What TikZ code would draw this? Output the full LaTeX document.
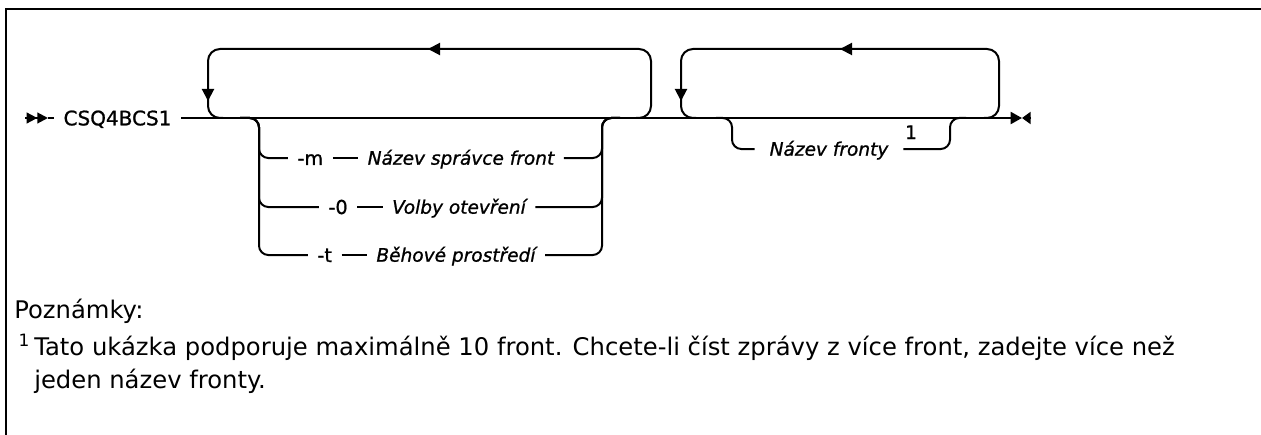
\documentclass[tikz,border=0pt]{standalone}
\usepackage{fontspec}
\setmainfont{DejaVu Sans}
\newfontfamily\railfont[FakeBold=1]{DejaVu Sans}
\usetikzlibrary{arrows.meta,positioning}

\begin{document}
\begin{tikzpicture}[
    x=0.75pt, y=-0.75pt,
    rail/.style={line width=1.5pt, rounded corners=7pt},
    railtip/.style={line width=1.5pt, -{Triangle[length=9pt,width=9pt]}},
    kw/.style={inner xsep=7pt, inner ysep=0pt, text height=10.5pt, text depth=0pt,
      font=\railfont\fontsize{14.4}{17}\selectfont},
    var/.style={kw, text height=10pt, font=\railfont\fontsize{13.9}{17}\selectfont\itshape},
    notetext/.style={font=\fontsize{18.2}{22}\selectfont, inner sep=0pt, anchor=base west},
  ]
  \useasboundingbox (0,0) rectangle (1261,435);
  % --- frame, only its top and left edges are in view ---
  \draw[line width=2.2pt] (6,435) -- (6,9) -- (1261,9);

  % --- start marker and program name ---
  \coordinate (begin) at (25,118);
  \coordinate (begintip) at (48,118);
  \draw[line width=1.5pt, -{Triangle[length=8pt,width=8pt] Triangle[length=8pt,width=8pt]}] (begin) -- (begintip);
  \node[kw, text height=11pt, font=\railfont\fontsize{15}{18}\selectfont, anchor=west] (prog) at (54,118) {CSQ4BCS1};
  \draw[rail] (begintip) -- (prog.west);

  % --- main rail and end marker ---
  \coordinate (endtip) at (1022,118);
  \coordinate (endcap) at (1031,118);
  \draw[railtip, -{Triangle[length=8.5pt,width=9pt]}] (prog.east) -- (endtip);
  \draw[railtip, -{Triangle[length=6.5pt,width=9pt]}] (endcap) -- (endtip);

  % --- first repeat loop ---
  \draw[rail, rounded corners=9pt] (636,118) -- (651,118) -- (651,49) -- (208,49) -- (208,118) -- (223,118);
  \draw[railtip] (446,49) -- (428,49);
  \draw[railtip] (208,84) -- (208,101);

  % --- options of the first loop ---
  \foreach \y/\opt/\val/\cx in {158/-m/Název správce front/461,
                                207/-0/Volby otevření/459,
                                255/-t/Běhové prostředí/456} {
    \node[var] (val\y) at (\cx,\y) {\val};
    \node[kw, left=19pt of val\y] (opt\y) {\opt};
    \draw[rail] (opt\y.east) -- (val\y.west);
    \draw[rail] (240,118) -- (259,118) -- (259,\y) -- (opt\y.west);
    \draw[rail] (val\y.east) -- (602,\y) -- (602,118) -- (620,118);
  }

  % --- second repeat loop ---
  \draw[rail, rounded corners=9pt] (984,118) -- (999,118) -- (999,49) -- (681,49) -- (681,118) -- (696,118);
  \draw[railtip] (858,49) -- (840,49);
  \draw[railtip] (681,84) -- (681,101);

  % --- queue name below the second loop ---
  \node[var, inner xsep=11pt] (queue) at (829,149) {Název fronty};
  \node[kw, inner xsep=0pt, font=\railfont\fontsize{14}{17}\selectfont] (fn1) at (911,132) {1};
  \draw[rail] (716,118) -- (732,118) -- (732,149) -- (queue.west);
  \draw[rail] (queue.east) -- (950,149) -- (950,118) -- (966,118);

  % --- notes ---
  \node[notetext] (notes) at (14,318) {Poznámky:};
  \node[notetext] (note1a) at (34,355) {\llap{\textsuperscript{1}\,}Tato ukázka podporuje maximálně 10 front. Chcete-li číst zprávy z více front, zadejte více než};
  \node[notetext] (note1b) at (34,388) {jeden název fronty.};
\end{tikzpicture}
\end{document}
